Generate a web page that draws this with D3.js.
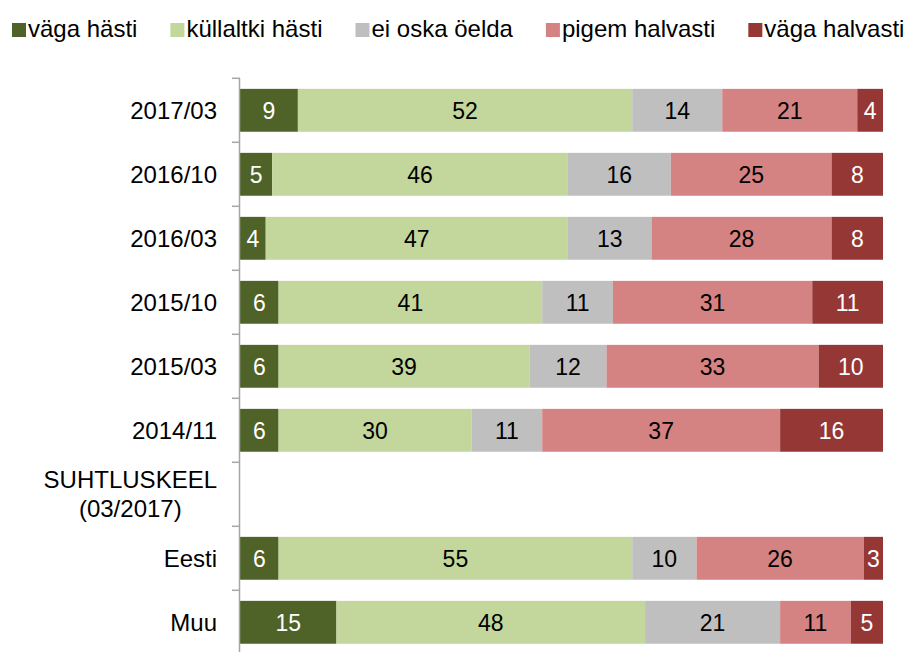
<!DOCTYPE html>
<html>
<head>
<meta charset="utf-8">
<script src="https://cdn.jsdelivr.net/npm/d3@7/dist/d3.min.js"></script>
<style>
  html, body { margin: 0; padding: 0; background: #fff; }
  svg { display: block; font-family: "Liberation Sans", Arial, sans-serif; }
</style>
</head>
<body>
<svg id="chart" width="910" height="652"></svg>
<script>
// ---- data ----
const categories = ["2017/03", "2016/10", "2016/03", "2015/10", "2015/03", "2014/11", "SUHTLUSKEEL\n(03/2017)", "Eesti", "Muu"];
const seriesNames = ["väga hästi", "küllaltki hästi", "ei oska öelda", "pigem halvasti", "väga halvasti"];
const vagaHasti      = [9, 5, 4, 6, 6, 6, null, 6, 15];
const kullaltkiHasti = [52, 46, 47, 41, 39, 30, null, 55, 48];
const eiOskaOelda    = [14, 16, 13, 11, 12, 11, null, 10, 21];
const pigemHalvasti  = [21, 25, 28, 31, 33, 37, null, 26, 11];
const vagaHalvasti   = [4, 8, 8, 11, 10, 16, null, 3, 5];
const seriesValues = [vagaHasti, kullaltkiHasti, eiOskaOelda, pigemHalvasti, vagaHalvasti];
const xDomain = [0, 100];

// ---- styles ----
const colors = ["#4F6228", "#C3D69B", "#BFBFBF", "#D48282", "#953735"];
const labelColors = ["#ffffff", "#000000", "#000000", "#000000", "#ffffff"];

(function () {
const svg = d3.select("#chart");
const plotLeft = 240, plotRight = 883, plotTop = 78.3, step = 64;

const x = d3.scaleLinear().domain(xDomain).range([plotLeft, plotRight]);
const y = d3.scaleBand().domain(categories)
  .range([plotTop, plotTop + step * categories.length])
  .paddingInner(0.33).paddingOuter(0.165);

const rows = categories.map((c, i) => {
  let acc = 0;
  const segs = [];
  seriesValues.forEach((vals, s) => {
    const v = vals[i];
    if (v == null) return;
    segs.push({ cat: c, s, v, x0: acc, x1: acc + v });
    acc += v;
  });
  return segs;
}).flat();

const g = svg.append("g");
g.selectAll("rect.seg").data(rows).join("rect")
  .attr("class", "seg")
  .attr("x", d => x(d.x0))
  .attr("width", d => x(d.x1) - x(d.x0))
  .attr("y", d => y(d.cat))
  .attr("height", y.bandwidth())
  .attr("fill", d => colors[d.s]);

g.selectAll("text.val").data(rows).join("text")
  .attr("class", "val")
  .attr("x", d => (x(d.x0) + x(d.x1)) / 2)
  .attr("y", d => y(d.cat) + y.bandwidth() / 2)
  .attr("dy", "0.36em")
  .attr("text-anchor", "middle")
  .attr("font-size", 23)
  .attr("fill", d => labelColors[d.s])
  .text(d => d.v);

const axisG = svg.append("g");
axisG.append("line")
  .attr("x1", plotLeft - 0.5).attr("x2", plotLeft - 0.5)
  .attr("y1", y.range()[0]).attr("y2", 652)
  .attr("stroke", "#A6A6A6").attr("stroke-width", 1.5);
const bounds = categories.map(c => y(c) - (y.step() - y.bandwidth()) / 2);
axisG.selectAll("line.tick").data(bounds).join("line")
  .attr("class", "tick")
  .attr("x1", plotLeft - 8).attr("x2", plotLeft)
  .attr("y1", d => d).attr("y2", d => d)
  .attr("stroke", "#A6A6A6").attr("stroke-width", 1.5);

const labelRight = 217;
categories.forEach(c => {
  const lines = c.split("\n");
  const cy = y(c) + y.bandwidth() / 2;
  const t = svg.append("text").attr("font-size", 24).attr("fill", "#000");
  if (lines.length === 1) {
    t.attr("x", labelRight).attr("y", cy).attr("dy", "0.36em")
      .attr("text-anchor", "end").text(c);
  } else {
    const lh = 29;
    lines.forEach((ln, k) => {
      t.append("tspan").attr("y", cy + (k - (lines.length - 1) / 2) * lh).attr("dy", "0.36em").text(ln);
    });
    const spans = t.selectAll("tspan").nodes();
    const w = Math.max(...spans.map(n => n.getComputedTextLength()));
    t.attr("text-anchor", "middle");
    spans.forEach(n => n.setAttribute("x", labelRight - w / 2));
  }
});

const leg = svg.append("g");
let lx = 12;
seriesNames.forEach((name, s) => {
  leg.append("rect").attr("x", lx).attr("y", 23).attr("width", 14).attr("height", 14).attr("fill", colors[s]);
  const t = leg.append("text").attr("x", lx + 16).attr("y", 37)
    .attr("font-size", 24).attr("fill", "#000").text(name);
  lx += 16 + t.node().getComputedTextLength() + 33;
});
})();
</script>
</body>
</html>
